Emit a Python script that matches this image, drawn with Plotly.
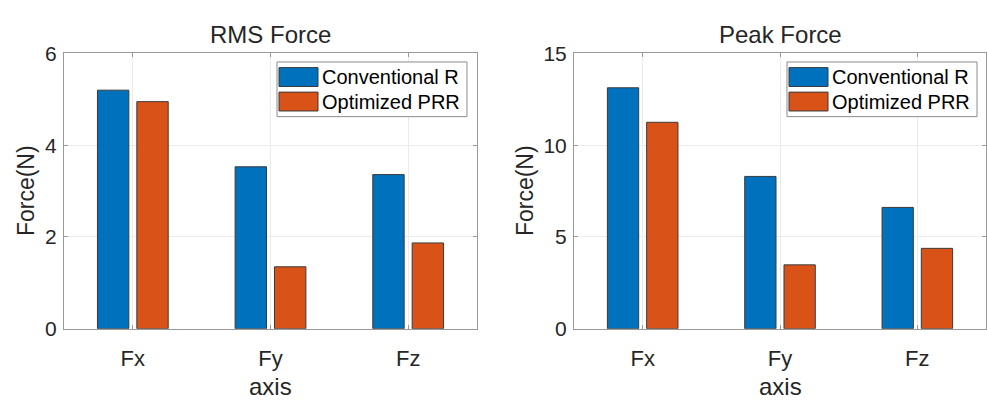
import plotly.graph_objects as go

# ---- data -------------------------------------------------------------
categories = ["Fx", "Fy", "Fz"]
series_names = ["Conventional R", "Optimized PRR"]
series_colors = ["#0072BD", "#D95319"]

rms_conventional = [5.20, 3.53, 3.36]
rms_optimized = [4.95, 1.35, 1.87]
peak_conventional = [13.13, 8.30, 6.61]
peak_optimized = [11.25, 3.48, 4.38]

rms_ticks = [0, 2, 4, 6]
peak_ticks = [0, 5, 10, 15]

panel_titles = ["RMS Force", "Peak Force"]
x_title = "axis"
y_title = "Force(N)"

# ---- styling ----------------------------------------------------------
W, H = 987, 401
FONT = "Liberation Sans, Arial, Helvetica, sans-serif"
TXT = "#262626"
AXIS_COL = "#9a9a9a"
GRID_COL = "#ebebeb"


def px(x):
    return x / W


def py(y):
    return 1 - y / H


# axis boxes in pixels (left, right, top, bottom)
boxes = [(64, 477, 44, 336), (574, 986, 44, 336)]

xpos = list(range(1, len(categories) + 1))

fig = go.Figure()

panels = [
    (rms_conventional, rms_optimized, rms_ticks),
    (peak_conventional, peak_optimized, peak_ticks),
]

for i, (conv, opt, ticks) in enumerate(panels):
    xa = "x" if i == 0 else "x2"
    ya = "y" if i == 0 else "y2"
    for name, vals, col in zip(series_names, [conv, opt], series_colors):
        fig.add_trace(go.Bar(
            x=xpos, y=vals, name=name, xaxis=xa, yaxis=ya,
            marker=dict(color=col, line=dict(color="#3a3a3a", width=1)),
            showlegend=False, hoverinfo="x+y+name",
        ))

axis_common = dict(
    showline=True, linecolor=AXIS_COL, linewidth=1, mirror="ticks",
    ticks="inside", ticklen=4, tickcolor=AXIS_COL, tickwidth=1,
    showgrid=True, gridcolor=GRID_COL, gridwidth=1, zeroline=False,
)

for i, (conv, opt, ticks) in enumerate(panels):
    l, r, t, b = boxes[i]
    xkey = "xaxis" if i == 0 else "xaxis2"
    ykey = "yaxis" if i == 0 else "yaxis2"
    fig.layout[xkey] = dict(
        domain=[px(l), px(r)], anchor="y" if i == 0 else "y2",
        range=[0.5, len(categories) + 0.5],
        tickvals=xpos, ticktext=categories, ticklabelstandoff=10,
        tickfont=dict(family=FONT, size=22, color=TXT),
        **axis_common,
    )
    fig.layout[ykey] = dict(
        domain=[py(b), py(t)], anchor="x" if i == 0 else "x2",
        range=[ticks[0], ticks[-1]], tickvals=ticks,
        ticklabelstandoff=2,
        tickfont=dict(family=FONT, size=21, color=TXT),
        **axis_common,
    )

    cx = (l + r) / 2
    cy = (t + b) / 2
    # panel title
    fig.add_annotation(text=panel_titles[i], x=px(cx), y=py(24), xref="paper", yref="paper",
                       showarrow=False, xanchor="center", yanchor="middle",
                       font=dict(family=FONT, size=24, color=TXT))
    # x axis title
    fig.add_annotation(text=x_title, x=px(cx), y=py(397), xref="paper", yref="paper",
                       showarrow=False, xanchor="center", yanchor="middle",
                       font=dict(family=FONT, size=24, color=TXT))
    # y axis title
    ytx = 26 if i == 0 else 525
    fig.add_annotation(text=y_title, x=px(ytx), y=py(cy), xref="paper", yref="paper",
                       showarrow=False, xanchor="center", yanchor="middle", textangle=-90,
                       font=dict(family=FONT, size=23, color=TXT))

    # legend box
    lx0, lx1, ly0, ly1 = l + 213, l + 403, 53, 111
    fig.add_shape(type="rect", xref="paper", yref="paper",
                  x0=px(lx0), x1=px(lx1), y0=py(ly1), y1=py(ly0),
                  line=dict(color="#8c8c8c", width=1), fillcolor="white", layer="above")
    for k, (name, col) in enumerate(zip(series_names, series_colors)):
        row_c = 69 + k * 26
        fig.add_shape(type="rect", xref="paper", yref="paper",
                      x0=px(lx0 + 2), x1=px(lx0 + 41), y0=py(row_c + 10), y1=py(row_c - 10),
                      line=dict(color="#3a3a3a", width=1), fillcolor=col, layer="above")
        fig.add_annotation(text=name, x=px(lx0 + 43), y=py(row_c), xref="paper", yref="paper",
                           showarrow=False, xanchor="left", yanchor="middle",
                           font=dict(family=FONT, size=20, color="#000000"))

fig.update_layout(
    width=W, height=H, margin=dict(l=0, r=0, t=0, b=0),
    paper_bgcolor="white", plot_bgcolor="white",
    barmode="group", bargap=0.428, bargroupgap=0.203,
    font=dict(family=FONT, color=TXT),
)

fig.write_html("out.html")
